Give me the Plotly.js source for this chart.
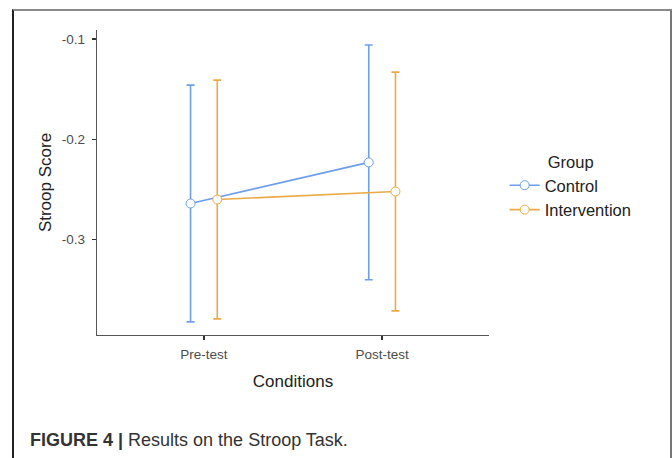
<!DOCTYPE html>
<html>
<head>
<meta charset="utf-8">
<script src="https://cdn.plot.ly/plotly-3.0.1.min.js"></script>
<style>
  html, body { margin: 0; padding: 0; background: #fff; }
  #wrap { position: relative; width: 672px; height: 458px; overflow: hidden; }
  #chart { position: absolute; left: 0; top: 0; width: 672px; height: 458px; }
  #frame { position: absolute; left: 12px; top: 9px; width: 656px; height: 470px;
           border-left: 2px solid #222; border-top: 2px solid #8a8a8a; border-right: 3px solid #777;
           pointer-events: none; }
</style>
</head>
<body>
<div id="wrap">
  <div id="chart"></div>
  <div id="frame"></div>
</div>
<script>
// ---- data ----
const conditions = ["Pre-test", "Post-test"];
const groups = ["Control", "Intervention"];
const controlMean = [-0.264, -0.223];
const controlErr = [0.118, 0.117];
const interventionMean = [-0.260, -0.252];
const interventionErr = [0.119, 0.119];
const colors = ["#6D9EEB", "#EBAA45"];

const catIdx = conditions.map((c, i) => i + 1);
const dodge = 0.075;

function makeTrace(name, means, errs, color, side) {
  return {
    type: "scatter",
    mode: "lines+markers",
    name: name,
    x: catIdx.map(v => v + side * dodge),
    y: means,
    line: { color: color, width: 1.6 },
    marker: { symbol: "circle", size: 9, color: "#ffffff", line: { color: color, width: 1 } },
    error_y: { type: "data", array: errs, visible: true, color: color, thickness: 1.6, width: 4 }
  };
}

const data = [
  makeTrace(groups[0], controlMean, controlErr, colors[0], -1),
  makeTrace(groups[1], interventionMean, interventionErr, colors[1], 1)
];

const font = "Liberation Sans, Arial, sans-serif";

const layout = {
  width: 672, height: 458,
  margin: { l: 97, r: 183, t: 30, b: 123 },
  paper_bgcolor: "#ffffff",
  plot_bgcolor: "#ffffff",
  font: { family: font, color: "#222" },
  showlegend: true,
  xaxis: {
    range: [0.4, 2.6],
    tickvals: catIdx,
    ticktext: conditions,
    showgrid: false, zeroline: false,
    showline: true, linecolor: "#555", linewidth: 1.3,
    ticks: "outside", ticklen: 4, tickcolor: "#333", tickwidth: 1.3,
    ticklabelstandoff: 2,
    tickfont: { size: 13.5, color: "#4d4d4d", family: font },
    title: { text: "Conditions", font: { size: 17, color: "#222", family: font }, standoff: 14 }
  },
  yaxis: {
    range: [-0.3951, -0.091],
    tickvals: [-0.1, -0.2, -0.3],
    ticktext: ["-0.1", "-0.2", "-0.3"],
    showgrid: false, zeroline: false,
    showline: true, linecolor: "#555", linewidth: 1.3,
    ticks: "outside", ticklen: 4, tickcolor: "#333", tickwidth: 1.3,
    ticklabelstandoff: 4,
    tickfont: { size: 13.5, color: "#4d4d4d", family: font },
    title: { text: "Stroop Score", font: { size: 17, color: "#222", family: font }, standoff: 5 }
  },
  legend: {
    x: 1.04, y: 0.618, xanchor: "left", yanchor: "top",
    bgcolor: "rgba(0,0,0,0)",
    font: { size: 16.5, color: "#222", family: font },
    title: { text: "Group", font: { size: 16.5, color: "#222", family: font }, side: "top center" },
    itemwidth: 30, tracegroupgap: 0
  },
  annotations: [
    {
      xref: "paper", yref: "paper",
      x: -0.175, y: -0.345, xanchor: "left", yanchor: "middle",
      showarrow: false,
      text: "<b>FIGURE 4 |</b> Results on the Stroop Task.",
      font: { size: 18, color: "#333", family: font }
    }
  ]
};

Plotly.newPlot("chart", data, layout, { displayModeBar: false, staticPlot: true });
</script>
</body>
</html>
